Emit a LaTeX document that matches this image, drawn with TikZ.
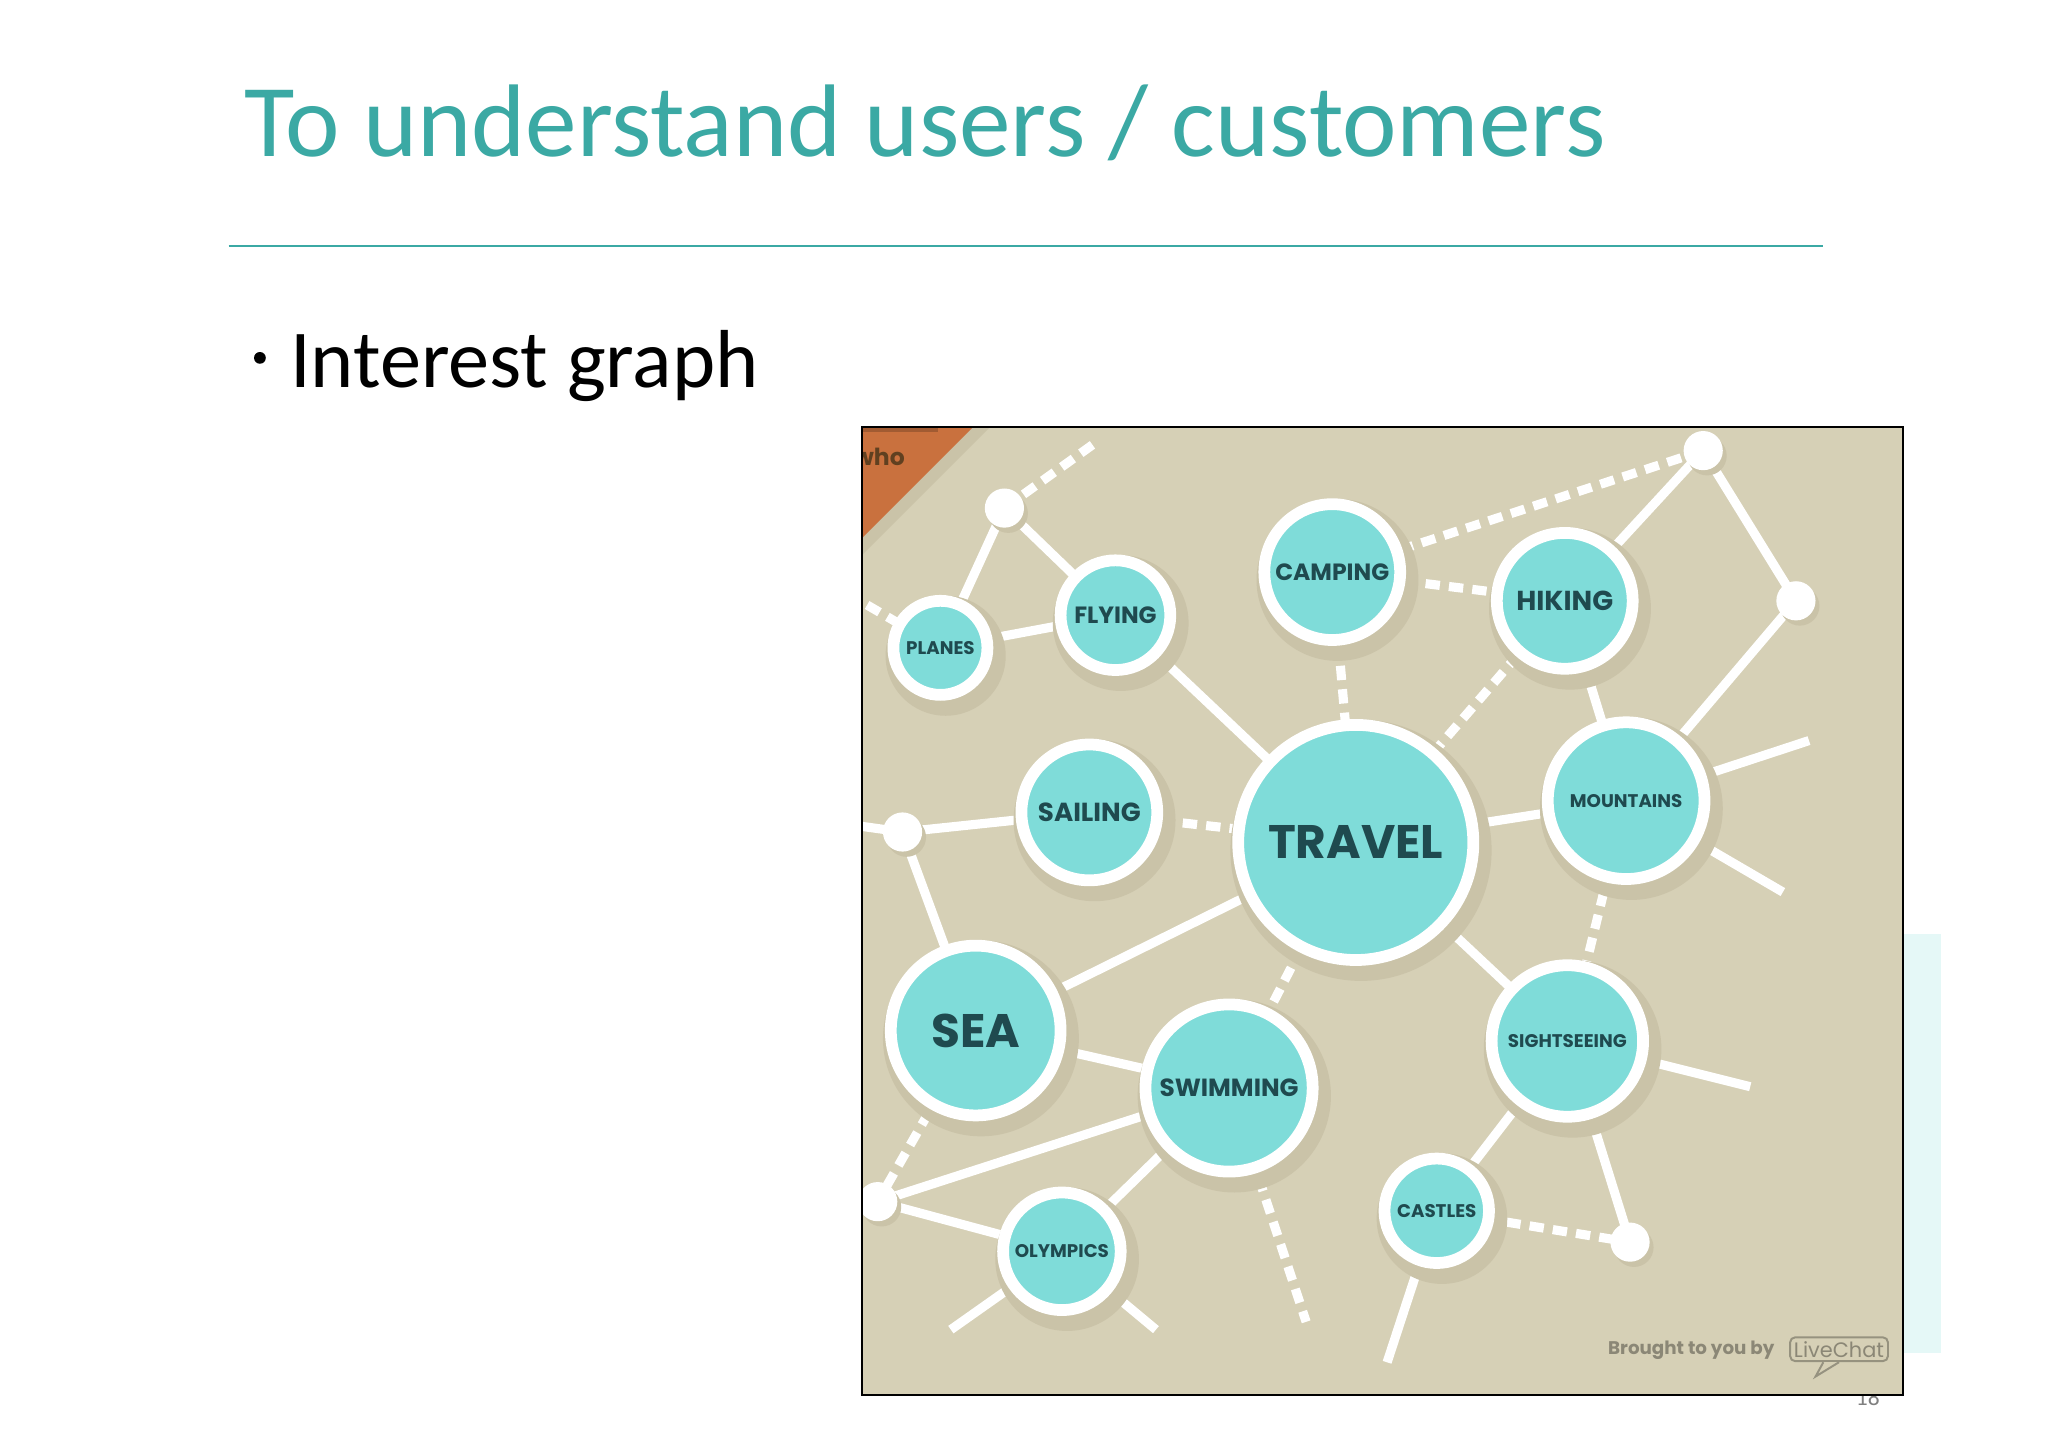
\documentclass[tikz,border=0pt]{standalone}
\usepackage{fontspec}
\setmainfont{Carlito}
\newfontfamily\lab{Poppins}
\begin{document}
\begin{tikzpicture}[x=1pt,y=-1pt,
  bub/.style={circle,draw=white,line width=9pt,fill=teal0,text=dark0,font=\lab\bfseries,inner sep=0pt},
  dot/.style={circle,fill=white,minimum size=30pt,inner sep=0pt},
  ln/.style={white,line width=7pt},
  dl/.style={white,line width=7pt,dash pattern=on 11pt off 7pt}]
\definecolor{teal0}{HTML}{7FDCD9}
\definecolor{dark0}{HTML}{1F4A4F}
\definecolor{bg0}{HTML}{D6D0B6}
\definecolor{title0}{HTML}{3BA9A4}
\definecolor{shad}{HTML}{CAC3A8}
\definecolor{org0}{HTML}{C9713E}
\useasboundingbox (0,0) rectangle (1568,1108);
\fill[white] (0,0) rectangle (1568,1108);
\node[anchor=base west,text=title0,font=\fontsize{79}{84}\selectfont,inner sep=0] (title) at (187,120) {To understand users / customers};
\draw[title0,line width=1.5pt] (175,188) -- (1396,188);
\fill (199,274) circle (4.5);
\node[anchor=base west,font=\fontsize{63}{66}\selectfont,inner sep=0] (bul) at (222,297) {Interest graph};
\fill[teal0!20] (1457,715) rectangle (1486,1036);
\node[gray,font=\fontsize{18}{20}\selectfont] (pg) at (1430,1070) {18};
\begin{scope}
\clip (660,327) rectangle (1457,1068);
\fill[bg0] (660,327) rectangle (1457,1068);
\fill[shad] (660,327) -- (758,327) -- (660,425) -- cycle;
\fill[org0] (660,327) -- (745,327) -- (660,412) -- cycle;
\fill[org0!80!black] (660,327) rectangle (718,331);
\node[text=brown!50!black,font=\lab\bfseries\fontsize{18}{18}\selectfont,anchor=west] (who) at (650,350) {who};
\coordinate (d1) at (769,389);
\coordinate (d2) at (1304,345);
\coordinate (d3) at (1375,460);
\coordinate (d4) at (691,637);
\coordinate (d5) at (1248,951);
\coordinate (d6) at (672,920);
\coordinate (pl) at (720,496);
\coordinate (fl) at (854,471);
\coordinate (ca) at (1020,438);
\coordinate (hi) at (1198,460);
\coordinate (sa) at (834,622);
\coordinate (tr) at (1038,645);
\coordinate (mo) at (1245,613);
\coordinate (se) at (747,789);
\coordinate (sw) at (941,833);
\coordinate (si) at (1200,797);
\coordinate (cs) at (1100,927);
\coordinate (ol) at (813,958);
\coordinate (e1) at (655,458);
\coordinate (e2) at (840,338);
\coordinate (e3) at (655,632);
\coordinate (e4) at (1385,567);
\coordinate (e5) at (1365,683);
\coordinate (e6) at (1000,1012);
\coordinate (e7) at (728,1018);
\coordinate (e8) at (885,1018);
\coordinate (e9) at (1340,832);
\coordinate (e10) at (1062,1043);
\draw[ln] (d1)--(pl) (d1)--(fl) (pl)--(fl) (fl)--(tr) (hi)--(d2) (d2)--(d3) (d3)--(mo)
  (hi)--(mo) (tr)--(mo) (mo)--(e4) (mo)--(e5) (sa)--(d4) (d4)--(e3) (d4)--(se)
  (tr)--(se) (tr)--(si) (se)--(sw) (d6)--(sw) (d6)--(ol) (sw)--(ol) (ol)--(e7) (ol)--(e8)
  (si)--(e9) (si)--(cs) (si)--(d5) (cs)--(e10);
\draw[dl] (pl)--(e1) (d1)--(e2) (ca)--(hi) (ca)--(d2) (ca)--(tr) (hi)--(tr) (mo)--(si)
  (sa)--(tr) (tr)--(sw) (se)--(d6) (sw)--(e6) (cs)--(d5);
\foreach \d in {d1,d2,d3,d4,d5,d6} {\fill[shad] ([shift={(3,4)}]\d) circle (15); \node[dot] (n\d) at (\d) {};}
\foreach \c/\r in {pl/36,fl/42,ca/52,hi/52,sa/52,tr/90,mo/60,se/65,sw/64,si/58,cs/40,ol/45}
  {\fill[shad] ([shift={(4,6)}]\c) circle ({\r+10});}
\node[bub,minimum size=72pt,font=\lab\bfseries\fontsize{14}{14}\selectfont] (PLANES) at (pl) {PLANES};
\node[bub,minimum size=84pt,font=\lab\bfseries\fontsize{18}{18}\selectfont] (FLYING) at (fl) {FLYING};
\node[bub,minimum size=104pt,font=\lab\bfseries\fontsize{18}{18}\selectfont] (CAMPING) at (ca) {CAMPING};
\node[bub,minimum size=104pt,font=\lab\bfseries\fontsize{21}{21}\selectfont] (HIKING) at (hi) {HIKING};
\node[bub,minimum size=104pt,font=\lab\bfseries\fontsize{20}{20}\selectfont] (SAILING) at (sa) {SAILING};
\node[bub,minimum size=180pt,font=\lab\bfseries\fontsize{36}{36}\selectfont] (TRAVEL) at (tr) {TRAVEL};
\node[bub,minimum size=120pt,font=\lab\bfseries\fontsize{14}{14}\selectfont] (MOUNTAINS) at (mo) {MOUNTAINS};
\node[bub,minimum size=130pt,font=\lab\bfseries\fontsize{36}{36}\selectfont] (SEA) at (se) {SEA};
\node[bub,minimum size=128pt,font=\lab\bfseries\fontsize{19}{19}\selectfont] (SWIMMING) at (sw) {SWIMMING};
\node[bub,minimum size=116pt,font=\lab\bfseries\fontsize{14}{14}\selectfont] (SIGHTSEEING) at (si) {SIGHTSEEING};
\node[bub,minimum size=80pt,font=\lab\bfseries\fontsize{14}{14}\selectfont] (CASTLES) at (cs) {CASTLES};
\node[bub,minimum size=90pt,font=\lab\bfseries\fontsize{14}{14}\selectfont] (OLYMPICS) at (ol) {OLYMPICS};
\node[text=black!35!bg0,font=\lab\bfseries\fontsize{14}{14}\selectfont,anchor=east] (br) at (1362,1034) {Brought to you by};
\node[draw=black!30!bg0,line width=1.5pt,rounded corners=4pt,text=black!35!bg0,font=\lab\fontsize{16}{16}\selectfont,inner sep=3pt] (lc) at (1408,1033) {LiveChat};
\draw[black!30!bg0,line width=1.5pt,fill=bg0] ([xshift=-12pt]lc.south) -- ++(-6,11) -- ++(18,-11);
\end{scope}
\draw[black,line width=1.5pt] (660,327) rectangle (1457,1068);
\end{tikzpicture}
\end{document}
